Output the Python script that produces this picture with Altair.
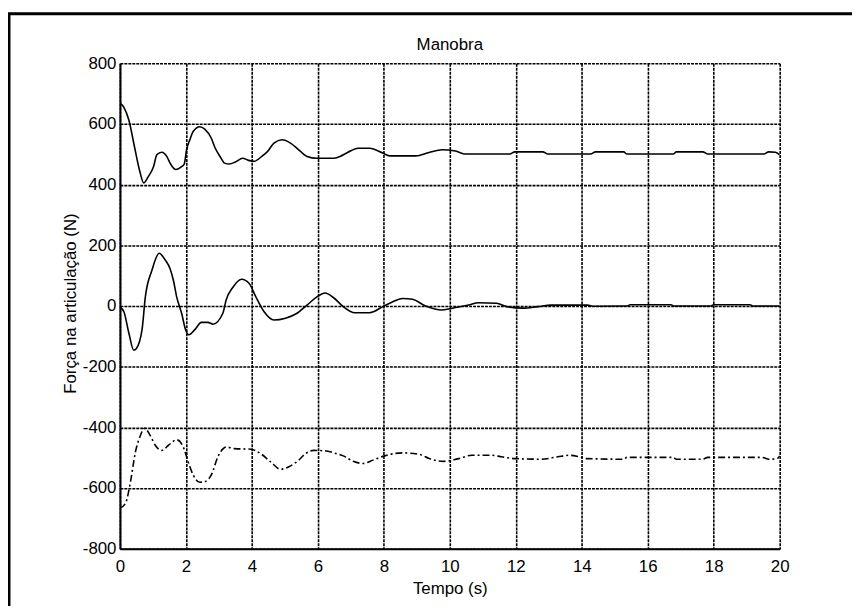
import altair as alt
import pandas as pd

# Time (s), force (N) pairs
top_curve = [(0, 670), (0.12, 655), (0.27, 613), (0.45, 520), (0.6, 445), (0.72, 406),
             (0.85, 425), (1.02, 460), (1.12, 499), (1.27, 507), (1.42, 493), (1.52, 471),
             (1.69, 450), (1.85, 458), (1.95, 468), (2.02, 515), (2.12, 548), (2.22, 575),
             (2.42, 591), (2.57, 583), (2.77, 553), (2.89, 520), (3.05, 490), (3.17, 471),
             (3.32, 468), (3.5, 475), (3.72, 487), (3.9, 480), (4.07, 477), (4.3, 493),
             (4.47, 509), (4.67, 537), (4.92, 548), (5.17, 537), (5.42, 515), (5.67, 493),
             (5.97, 487), (6.47, 487), (6.67, 493), (6.9, 506), (7.22, 520), (7.57, 520),
             (7.97, 504), (8.17, 495), (8.97, 495), (9.37, 506), (9.77, 515), (10.17, 511),
             (10.47, 501), (11.82, 501), (11.97, 508), (12.82, 508), (12.97, 501), (14.27, 501),
             (14.42, 508), (15.27, 508), (15.37, 501), (16.77, 501), (16.87, 508), (17.67, 508),
             (17.82, 501), (19.52, 501), (19.67, 508), (19.87, 507), (20, 498)]

mid_curve = [(0, -4), (0.12, -19), (0.27, -89), (0.42, -146), (0.5, -140), (0.67, -78),
             (0.77, 30), (0.97, 118), (1.19, 174), (1.37, 152), (1.52, 123), (1.62, 85),
             (1.72, 30), (1.87, -24), (1.99, -78), (2.09, -95), (2.27, -78), (2.47, -54),
             (2.67, -54), (2.82, -60), (3.12, -24), (3.22, 20), (3.42, 61), (3.69, 88),
             (3.92, 74), (4.12, 30), (4.37, -19), (4.67, -46), (5.02, -40), (5.37, -24),
             (5.67, 3), (5.97, 30), (6.22, 43), (6.47, 28), (6.77, -2), (7.12, -22),
             (7.57, -22), (7.97, -2), (8.27, 14), (8.57, 25), (8.87, 22), (9.27, 0),
             (9.77, -13), (10.17, -5), (10.57, 3), (10.87, 11), (11.42, 9), (11.72, -2),
             (12.22, -7), (12.67, -2), (13.07, 3), (14.17, 3), (14.37, -1), (15.37, 0),
             (15.47, 4), (16.7, 4), (16.8, 0), (17.9, 0), (18.0, 4), (19.1, 4), (19.2, 0),
             (20, 0)]

bot_curve = [(0, -666), (0.17, -650), (0.32, -579), (0.47, -481), (0.62, -427), (0.75, -403),
             (0.92, -427), (1.07, -459), (1.27, -476), (1.47, -459), (1.72, -441), (1.92, -465),
             (2.07, -514), (2.22, -557), (2.42, -581), (2.57, -579), (2.77, -557), (2.97, -497),
             (3.22, -465), (3.47, -470), (3.97, -472), (4.27, -487), (4.57, -514), (4.87, -538),
             (5.12, -530), (5.42, -508), (5.62, -487), (5.87, -476), (6.27, -478), (6.57, -487),
             (6.77, -494), (7.07, -512), (7.37, -519), (7.67, -508), (8.02, -494), (8.57, -484),
             (9.12, -490), (9.37, -503), (9.82, -512), (10.27, -503), (10.67, -492), (11.27, -492),
             (11.57, -497), (11.97, -503), (12.77, -505), (13.27, -497), (13.62, -492), (13.92, -497),
             (14.17, -503), (15.27, -505), (15.37, -499), (16.77, -499), (16.87, -505), (17.67, -505),
             (17.82, -499), (19.47, -499), (19.67, -505), (19.92, -503), (20, -494)]

x_ticks = list(range(0, 21, 2))
y_ticks = list(range(-800, 801, 200))
title_text = ["Manobra"]

FONT = "Liberation Sans"

x_axis = alt.Axis(values=x_ticks, grid=True, gridColor="black", gridDash=[3, 1], gridWidth=1.6,
                  gridOpacity=1, ticks=False, tickSize=0, domainColor="black", domainWidth=2,
                  labelFont=FONT, labelFontSize=17, labelColor="black", labelPadding=10,
                  labelFlush=False, labelOverlap=False, labelExpr="'' + datum.value",
                  title="Tempo (s)", titleFont=FONT,
                  titleFontSize=17, titleFontWeight="normal", titleColor="black",
                  titleX=333, titleY=45, titleAlign="center", titleBaseline="alphabetic")
y_axis = alt.Axis(values=y_ticks, grid=True, gridColor="black", gridDash=[3, 1], gridWidth=1.6,
                  gridOpacity=1, ticks=False, tickSize=0, domainColor="black", domainWidth=2,
                  labelFont=FONT, labelFontSize=17, labelColor="black", labelPadding=4,
                  labelFlush=False, labelOverlap=False, labelExpr="'' + datum.value",
                  title="Força na articulação (N)",
                  titleFont=FONT, titleFontSize=17, titleFontWeight="normal", titleColor="black",
                  titleX=-45, titleY=242, titleAlign="center", titleBaseline="alphabetic",
                  titleAngle=270)

x_enc = alt.X("t:Q", scale=alt.Scale(domain=[0, 20], nice=False, zero=False), axis=x_axis)
y_enc = alt.Y("v:Q", scale=alt.Scale(domain=[-800, 800], nice=False, zero=False), axis=y_axis)


def line_layer(points, dash):
    df = pd.DataFrame(points, columns=["t", "v"])
    props = dict(color="black", strokeWidth=1.6, clip=True, interpolate="monotone")
    if dash:
        props["strokeDash"] = dash
    return alt.Chart(df).mark_line(**props).encode(x=x_enc, y=y_enc)


frame = alt.Chart(pd.DataFrame({"k": [0]})).mark_rect(
    fill=None, stroke="black", strokeWidth=3
).encode(x=alt.value(-112), x2=alt.value(900), y=alt.value(-50), y2=alt.value(800))

title = alt.Chart(pd.DataFrame({"label": title_text})).mark_text(
    font=FONT, fontSize=17, color="black", baseline="alphabetic", align="center"
).encode(text="label:N", x=alt.value(333), y=alt.value(-13))

chart = alt.layer(
    line_layer(top_curve, None),
    line_layer(mid_curve, None),
    line_layer(bot_curve, [7, 3, 2, 3]),
    frame,
    title,
).properties(
    width=666,
    height=490,
    autosize=alt.AutoSizeParams(type="none"),
    padding={"left": 113, "top": 53, "right": 73, "bottom": 55},
    background="white",
).configure_view(strokeWidth=0)

chart.save("out.html", embed_options={"renderer": "svg", "actions": False})
